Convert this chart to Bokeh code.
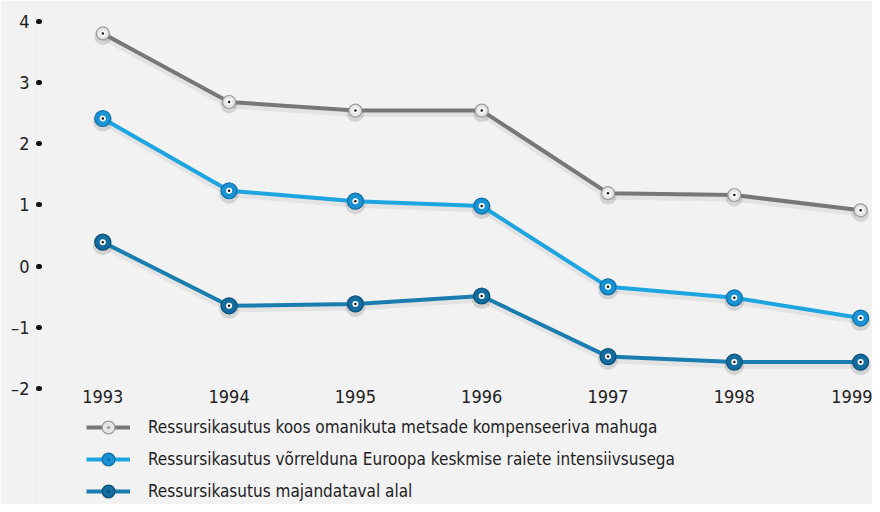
from bokeh.plotting import figure
from bokeh.models import (FixedTicker, Legend, LegendItem, Range1d)
from bokeh.embed import file_html
from bokeh.resources import INLINE

# ---- data ----
years = [1993, 1994, 1995, 1996, 1997, 1998, 1999]
series_names = [
    "Ressursikasutus koos omanikuta metsade kompenseeriva mahuga",
    "Ressursikasutus võrrelduna Euroopa keskmise raiete intensiivsusega",
    "Ressursikasutus majandataval alal",
]
grey_vals = [3.80, 2.68, 2.54, 2.54, 1.19, 1.16, 0.91]
light_vals = [2.41, 1.23, 1.06, 0.98, -0.34, -0.52, -0.85]
dark_vals = [0.39, -0.65, -0.62, -0.49, -1.48, -1.57, -1.57]
y_ticks = [-2, -1, 0, 1, 2, 3, 4]
y_tick_labels = {-2: "–2", -1: "–1", 0: "0", 1: "1", 2: "2", 3: "3", 4: "4"}

FONT = "DejaVu Sans Condensed"
BG = "#f2f2f2"

line_colors = ["#777777", "#1ca5e0", "#1a7db0"]
ball_colors = ["#e6e6e6", "#1a93d4", "#146d9f"]
ball_edges = ["#9a9a9a", "#0f6ea6", "#0b4f78"]
ball_sizes = [13, 16, 16]

p = figure(frame_width=833, frame_height=494, output_backend="svg", toolbar_location=None,
           x_range=Range1d(1992.499, 1999.094), y_range=Range1d(-3.897, 4.175),
           background_fill_color=BG, border_fill_color=BG,
           min_border_left=39, min_border_right=0, min_border_top=10,
           min_border_bottom=0, outline_line_color=None)
p.grid.visible = False

# axes
p.yaxis.ticker = FixedTicker(ticks=y_ticks)
p.yaxis.major_label_overrides = y_tick_labels
p.yaxis.axis_line_color = None
p.yaxis.minor_tick_line_color = None
p.yaxis.major_tick_in = 0
p.yaxis.major_tick_out = 1
p.yaxis.major_tick_line_width = 5
p.yaxis.major_tick_line_cap = "round"
p.yaxis.major_tick_line_color = "#111111"
p.yaxis.major_label_standoff = 9
p.yaxis.major_label_text_font = FONT
p.yaxis.major_label_text_font_size = "18px"
p.yaxis.major_label_text_color = "#222222"

p.xaxis.ticker = FixedTicker(ticks=years)
p.xaxis.major_label_overrides = {y: str(y) for y in years}
p.xaxis.fixed_location = -2.0
p.xaxis.axis_line_color = None
p.xaxis.major_tick_line_color = None
p.xaxis.minor_tick_line_color = None
p.xaxis.major_tick_in = 0
p.xaxis.major_tick_out = 0
p.xaxis.major_label_standoff = 2
p.xaxis.major_label_text_font = FONT
p.xaxis.major_label_text_font_size = "18px"
p.xaxis.major_label_text_color = "#222222"

items = []
for name, vals, lc, bc, be, bs in zip(series_names, [grey_vals, light_vals, dark_vals],
                                      line_colors, ball_colors, ball_edges, ball_sizes):
    shadow_vals = [v - 0.05 for v in vals]
    p.line(years, shadow_vals, line_color="#000000", line_alpha=0.06, line_width=7)
    p.scatter(years, shadow_vals, size=bs + 4, fill_color="#000000", fill_alpha=0.12,
              line_color=None)
    ln = p.line(years, vals, line_color=lc, line_width=4)
    ball = p.scatter(years, vals, marker="circle_dot", size=bs, fill_color=bc,
                     line_color=be, line_width=1.2)
    p.scatter(years, vals, size=6, fill_color="#ffffff", line_color=None)
    p.scatter(years, vals, size=2.5, fill_color="#111111", line_color=None)
    items.append(LegendItem(label=name, renderers=[ln, ball]))

legend = Legend(items=items, location=(47, -3),
                background_fill_alpha=0, border_line_color=None,
                margin=0, padding=0, spacing=0,
                glyph_width=44, glyph_height=32, label_standoff=18,
                label_text_font=FONT, label_text_font_size="17px",
                label_text_color="#222222", label_height=32)
p.add_layout(legend, "center")

open("out.html", "w").write(file_html(p, INLINE))
